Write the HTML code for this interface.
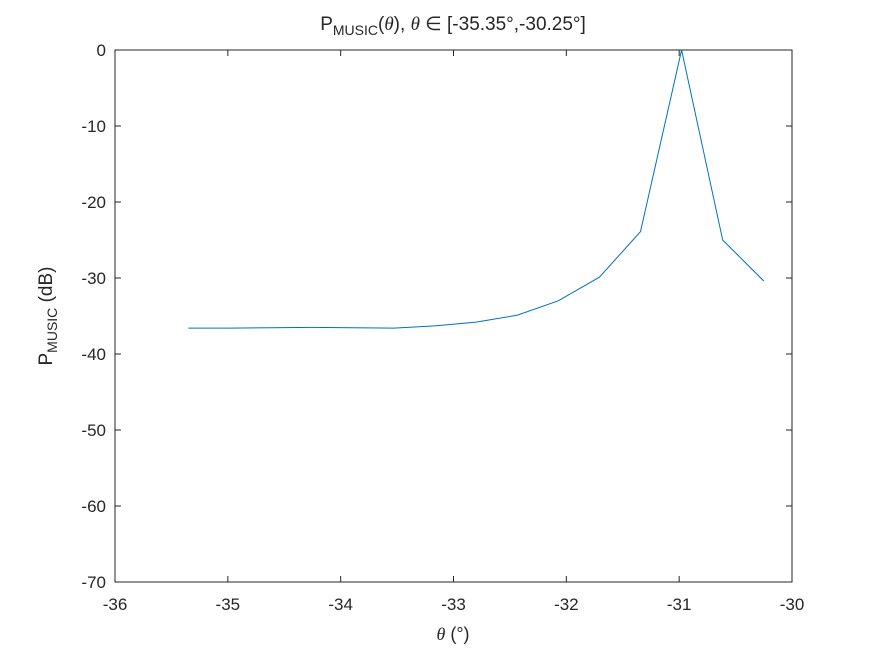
<!DOCTYPE html>
<html><head><meta charset="utf-8"><style>
body{margin:0;background:#fff;}
text{font-family:"Liberation Sans",sans-serif;fill:#262626;}
</style></head><body>
<svg id="chart" width="875" height="656">
<rect width="875" height="656" fill="#fff"/>
<rect x="115" y="50" width="677" height="532" fill="#fff" stroke="#262626" stroke-width="1"/>
<g id="xt"></g><g id="yt"></g>
<polyline id="line" fill="none" stroke="#0072bd" stroke-width="1"/>
<text x="453" y="30" font-size="19" text-anchor="middle">P<tspan font-size="14" dy="5">MUSIC</tspan><tspan dy="-5">(</tspan><tspan font-family="Liberation Serif" font-style="italic">θ</tspan>), <tspan font-family="Liberation Serif" font-style="italic">θ</tspan> ∈ [-35.35°,-30.25°]</text>
<text x="453" y="640" font-size="18" text-anchor="middle"><tspan font-family="Liberation Serif" font-style="italic">θ</tspan> (°)</text>
<text transform="translate(52,316) rotate(-90)" font-size="19" text-anchor="middle">P<tspan font-size="14" dy="5">MUSIC</tspan><tspan dy="-5"> (dB)</tspan></text>
</svg>
<script>
const xTicks=[-36,-35,-34,-33,-32,-31,-30];
const yTicks=[0,-10,-20,-30,-40,-50,-60,-70];
const thetaStart=-35.35, thetaEnd=-30.25;
const pw=[-36.6,-36.6,-36.55,-36.5,-36.55,-36.6,-36.3,-35.8,-34.9,-33.0,-29.9,-23.9,0,-25.0,-30.4];
const NS="http://www.w3.org/2000/svg";
const X=v=>115+(v+36)/6*677;
const Y=v=>50+(0-v)/70*532;
const xt=document.getElementById('xt'),yt=document.getElementById('yt');
xTicks.forEach(t=>{
 const l=document.createElementNS(NS,'line');
 l.setAttribute('x1',X(t));l.setAttribute('x2',X(t));l.setAttribute('y1',582);l.setAttribute('y2',576);l.setAttribute('stroke','#262626');
 
 
 xt.appendChild(l);
 const l2=l.cloneNode();l2.setAttribute('y1',50);l2.setAttribute('y2',56);xt.appendChild(l2);
 const s=document.createElementNS(NS,'text');
 s.setAttribute('x',X(t));s.setAttribute('y',610);s.setAttribute('font-size','17');s.setAttribute('text-anchor','middle');s.textContent=t;
 
 
 xt.appendChild(s);
});
yTicks.forEach(t=>{
 const l=document.createElementNS(NS,'line');
 l.setAttribute('x1',115);l.setAttribute('x2',121);l.setAttribute('y1',Y(t));l.setAttribute('y2',Y(t));l.setAttribute('stroke','#262626');
 
 
 yt.appendChild(l);
 const l2=l.cloneNode();l2.setAttribute('x1',792);l2.setAttribute('x2',786);yt.appendChild(l2);
 const s=document.createElementNS(NS,'text');
 s.setAttribute('x',106);s.setAttribute('y',Y(t)+6);s.setAttribute('font-size','17');s.setAttribute('text-anchor','end');s.textContent=t;
 
 
 yt.appendChild(s);
});
const n=pw.length;
const pts=pw.map((v,i)=>X(thetaStart+(thetaEnd-thetaStart)*i/(n-1))+','+Y(v)).join(' ');
document.getElementById('line').setAttribute('points',pts);
</script>
</body></html>
